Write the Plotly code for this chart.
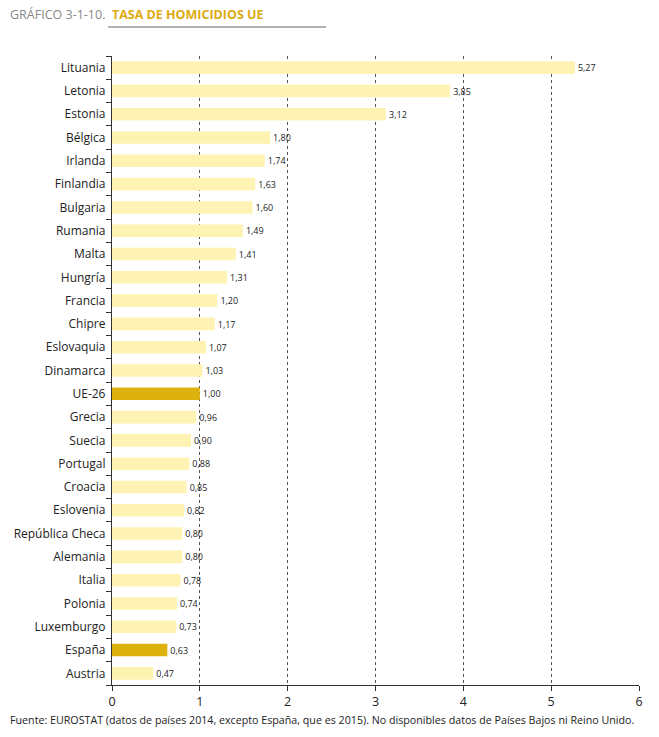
import plotly.graph_objects as go

countries = ["Lituania", "Letonia", "Estonia", "Bélgica", "Irlanda", "Finlandia", "Bulgaria",
             "Rumania", "Malta", "Hungría", "Francia", "Chipre", "Eslovaquia", "Dinamarca",
             "UE-26", "Grecia", "Suecia", "Portugal", "Croacia", "Eslovenia", "República Checa",
             "Alemania", "Italia", "Polonia", "Luxemburgo", "España", "Austria"]
values = [5.27, 3.85, 3.12, 1.80, 1.74, 1.63, 1.60, 1.49, 1.41, 1.31, 1.20, 1.17, 1.07, 1.03,
          1.00, 0.96, 0.90, 0.88, 0.85, 0.82, 0.80, 0.80, 0.78, 0.74, 0.73, 0.63, 0.47]
highlight = ["UE-26", "España"]
x_ticks = [0, 1, 2, 3, 4, 5, 6]

colors = ["#DDB20C" if c in highlight else "#FFF3B3" for c in countries]
labels = [f"{v:.2f}".replace(".", ",") for v in values]

W, H = 659, 737
ML, MR, MT, MB = 112, 20, 56, 52
pw, ph = W - ML - MR, H - MT - MB

def px2paper(px, py):
    return (px - ML) / pw, 1 - (py - MT) / ph

fig = go.Figure(go.Bar(
    x=values, y=countries, orientation="h",
    marker=dict(color=colors, line=dict(width=0)),
    text=labels, textposition="outside", cliponaxis=False,
    textfont=dict(size=10, color="#222", family="Open Sans"),
    hoverinfo="skip",
))

tx, ty = px2paper(8, 14)
fx, fy = px2paper(8, 720)
lx0, ly = px2paper(108, 27)
lx1, _ = px2paper(326, 27)

fig.update_layout(
    width=W, height=H,
    margin=dict(l=ML, r=MR, t=MT, b=MB),
    paper_bgcolor="white", plot_bgcolor="white",
    bargap=0.46, showlegend=False,
    font=dict(family="Open Sans", color="#222"),
    xaxis=dict(range=[0, 6], tickvals=x_ticks, ticktext=[str(t) for t in x_ticks],
               showgrid=True, gridcolor="#555", griddash="dot", gridwidth=1,
               zeroline=False, showline=True, linecolor="#333", linewidth=1,
               ticks="outside", ticklen=5, tickcolor="#333",
               tickfont=dict(size=12.5, color="#222")),
    yaxis=dict(categoryorder="array", categoryarray=countries[::-1],
               showline=True, linecolor="#333", linewidth=1,
               ticks="outside", ticklen=5, tickcolor="#333", tickson="boundaries",
               showgrid=False, tickfont=dict(size=12, color="#222"), ticksuffix=" "),
    annotations=[
        dict(text="GRÁFICO 3-1-10.  <b><span style='color:#DDAA10'>TASA DE HOMICIDIOS UE</span></b>",
             x=tx, y=ty, xref="paper", yref="paper", showarrow=False,
             xanchor="left", yanchor="middle",
             font=dict(size=12.5, color="#888", family="Open Sans")),
        dict(text="Fuente: EUROSTAT (datos de países 2014, excepto España, que es 2015). No disponibles datos de Países Bajos ni Reino Unido.",
             x=fx, y=fy, xref="paper", yref="paper", showarrow=False,
             xanchor="left", yanchor="middle",
             font=dict(size=10.7, color="#222", family="Open Sans")),
    ],
    shapes=[dict(type="line", xref="paper", yref="paper", x0=lx0, x1=lx1, y0=ly, y1=ly,
                 line=dict(color="#999", width=1.5))],
)

fig.write_html("out.html", config={"displayModeBar": False},
               post_script="document.body.style.margin='0';document.body.style.overflow='hidden';")
